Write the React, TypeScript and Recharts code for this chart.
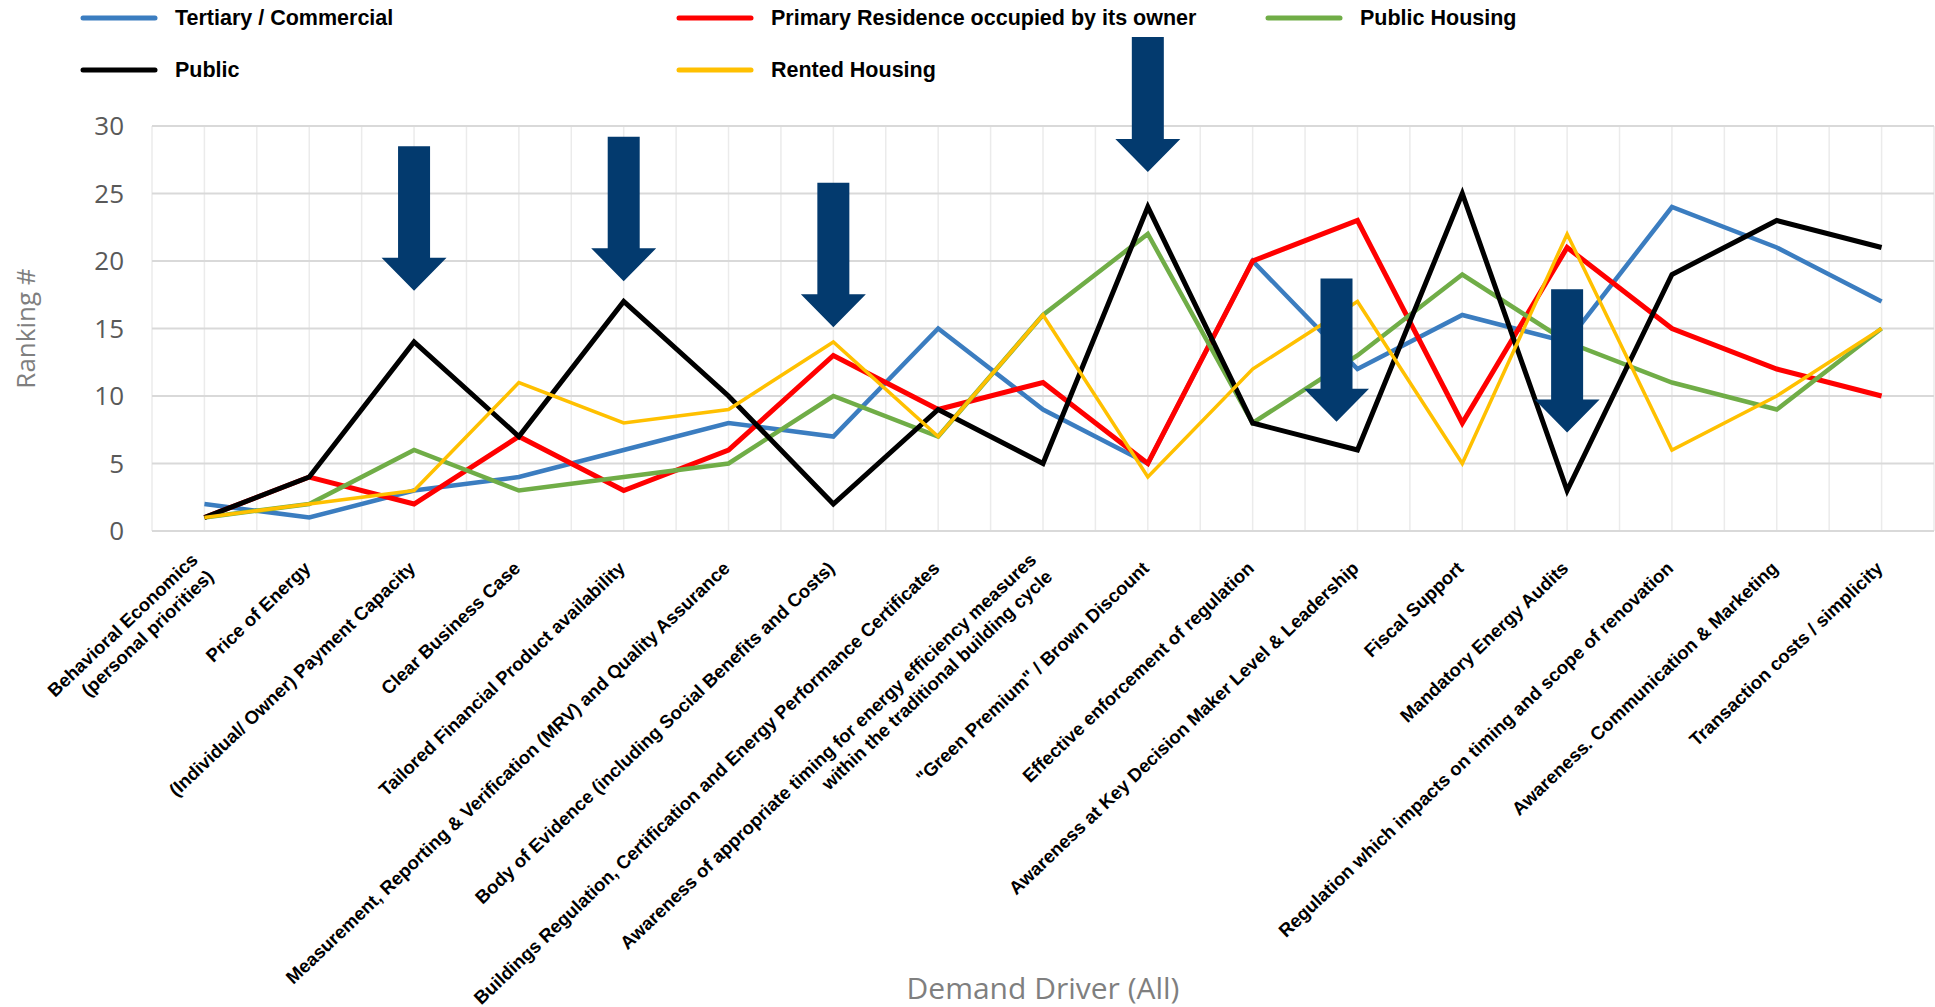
import { CartesianGrid, Label, Line, LineChart, ReferenceLine, XAxis, YAxis } from "recharts";

const categories = [
  "Behavioral Economics\n(personal priorities)",
  "Price of Energy",
  "(Individual/ Owner) Payment Capacity",
  "Clear Business Case",
  "Tailored Financial Product availability",
  "Measurement, Reporting & Verification (MRV) and Quality Assurance",
  "Body of Evidence (including Social Benefits and Costs)",
  "Buildings Regulation, Certification and Energy Performance Certificates",
  "Awareness of appropriate timing for energy efficiency measures\nwithin the traditional building cycle",
  "\"Green Premium\" / Brown Discount",
  "Effective enforcement of regulation",
  "Awareness at Key Decision Maker Level & Leadership",
  "Fiscal Support",
  "Mandatory Energy Audits",
  "Regulation which impacts on timing and scope of renovation",
  "Awareness. Communication & Marketing",
  "Transaction costs / simplicity",
];

const tertiary = [2, 1, 3, 4, 6, 8, 7, 15, 9, 5, 20, 12, 16, 14, 24, 21, 17];
const primaryResidence = [1, 4, 2, 7, 3, 6, 13, 9, 11, 5, 20, 23, 8, 21, 15, 12, 10];
const publicHousing = [1, 2, 6, 3, 4, 5, 10, 7, 16, 22, 8, 13, 19, 14, 11, 9, 15];
const publicSector = [1, 4, 14, 7, 17, 10, 2, 9, 5, 24, 8, 6, 25, 3, 19, 23, 21];
const rentedHousing = [1, 2, 3, 11, 8, 9, 14, 7, 16, 4, 12, 17, 5, 22, 6, 10, 15];

const yTicks = [0, 5, 10, 15, 20, 25, 30];

// highlighted drivers (x in category index, top / tip in ranking units)
const arrowX = [2, 4, 6, 9, 10.8, 13];
const arrowTop = [28.5, 29.2, 25.8, 36.6, 18.7, 17.9];
const arrowTip = [17.8, 18.5, 15.1, 26.6, 8.1, 7.3];

const series = [
  { key: "tertiary", name: "Tertiary / Commercial", color: "#3B7DC0", width: 4.5 },
  { key: "primaryResidence", name: "Primary Residence occupied by its owner", color: "#FF0000", width: 5 },
  { key: "publicHousing", name: "Public Housing", color: "#70AD47", width: 4.5 },
  { key: "publicSector", name: "Public", color: "#000000", width: 5 },
  { key: "rentedHousing", name: "Rented Housing", color: "#FFC000", width: 3.5 },
];

const rows = categories.map((name, i) => ({
  idx: i,
  name,
  tertiary: tertiary[i],
  primaryResidence: primaryResidence[i],
  publicHousing: publicHousing[i],
  publicSector: publicSector[i],
  rentedHousing: rentedHousing[i],
}));

// gridlines at every category and half-way between
const xTicks = Array.from({ length: categories.length * 2 + 1 }, (_, i) => i / 2 - 0.5);

const labelFont = "'Liberation Sans', Arial, sans-serif";
const axisFont = "'Open Sans', 'Noto Sans', sans-serif";

function DriverTick(props: any) {
  const { x, y, payload } = props;
  const v = Number(payload?.value);
  if (!Number.isInteger(v) || v < 0 || v >= categories.length) return <g />;
  const lines = categories[v].split("\n");
  const lh = 23;
  return (
    <g transform={`translate(${x - 2},${y + 34}) rotate(-43.5)`}>
      <text textAnchor="end" fontFamily={labelFont} fontWeight="bold" fontSize={18.5} fill="#000">
        {lines.map((line, i) => (
          <tspan key={i} x={0} y={(i - (lines.length - 1) / 2) * lh} dy="0.35em">
            {line}
          </tspan>
        ))}
      </text>
    </g>
  );
}

function DownArrow(props: any) {
  const { x1, y1, x2, y2 } = props;
  if (x1 == null || y1 == null) return <g />;
  const cx = (x1 + x2) / 2;
  const top = Math.min(y1, y2);
  const tip = Math.max(y1, y2);
  const shaft = 16;
  const head = 32.5;
  const headH = 33;
  const pts = [
    [cx - shaft, top],
    [cx + shaft, top],
    [cx + shaft, tip - headH],
    [cx + head, tip - headH],
    [cx, tip],
    [cx - head, tip - headH],
    [cx - shaft, tip - headH],
  ];
  return <polygon points={pts.map((p) => p.join(",")).join(" ")} fill="#033A6E" />;
}

function RankingLabel(props: any) {
  const vb = props.viewBox ?? { x: 0, y: 126, width: 152, height: 405 };
  const cx = vb.x + 25;
  const cy = vb.y + vb.height / 2;
  return (
    <text
      x={cx}
      y={cy}
      transform={`rotate(-90 ${cx} ${cy})`}
      textAnchor="middle"
      dominantBaseline="central"
      fontFamily={axisFont}
      fontSize={26}
      fill="#7F7F7F"
    >
      Ranking #
    </text>
  );
}

function DriverLabel(props: any) {
  const vb = props.viewBox ?? { x: 152, y: 531, width: 1782, height: 476 };
  return (
    <text
      x={vb.x + vb.width / 2}
      y={vb.y + 456}
      textAnchor="middle"
      dominantBaseline="central"
      fontFamily={axisFont}
      fontSize={30}
      fill="#7F7F7F"
    >
      Demand Driver (All)
    </text>
  );
}

const legendCols = [83, 679, 1268];
const legendRows = [18, 70];

function ChartLegend() {
  return (
    <svg width={1935} height={100} style={{ position: "absolute", left: 0, top: 0, pointerEvents: "none" }}>
      {series.map((s, i) => {
        const x = legendCols[i % 3];
        const y = legendRows[Math.floor(i / 3)];
        return (
          <g key={s.key}>
            <line x1={x} y1={y} x2={x + 72} y2={y} stroke={s.color} strokeWidth={5} strokeLinecap="round" />
            <text x={x + 92} y={y} dominantBaseline="central" fontFamily={labelFont} fontWeight="bold" fontSize={21.5} fill="#000">
              {s.name}
            </text>
          </g>
        );
      })}
    </svg>
  );
}

export default function App() {
  return (
    <div style={{ position: "absolute", left: 0, top: 0, width: 1935, height: 1007, background: "#fff" }}>
      <LineChart width={1935} height={1007} data={rows} margin={{ top: 126, right: 1, bottom: 0, left: 0 }}>
        <CartesianGrid horizontal={false} stroke="#EBEBEB" strokeWidth={1.5} />
        <CartesianGrid vertical={false} stroke="#D9D9D9" strokeWidth={2} />
        <XAxis
          type="number"
          dataKey="idx"
          domain={[-0.5, categories.length - 0.5]}
          ticks={xTicks}
          interval={0}
          height={476}
          axisLine={false}
          tickLine={false}
          tickSize={0}
          tickMargin={0}
          tick={<DriverTick />}
        >
          <Label content={<DriverLabel />} />
        </XAxis>
        <YAxis
          type="number"
          domain={[0, 30]}
          ticks={yTicks}
          interval={0}
          width={152}
          axisLine={false}
          tickLine={false}
          tickSize={0}
          tickMargin={28}
          tick={{ fill: "#595959", fontSize: 26, fontFamily: axisFont }}
        >
          <Label content={<RankingLabel />} />
        </YAxis>
        {series.map((s) => (
          <Line
            key={s.key}
            type="linear"
            dataKey={s.key}
            name={s.name}
            stroke={s.color}
            strokeWidth={s.width}
            dot={false}
            activeDot={false}
            isAnimationActive={false}
          />
        ))}
        {arrowX.map((x, i) => (
          <ReferenceLine
            key={`arrow-${i}`}
            segment={[
              { x, y: arrowTop[i] },
              { x, y: arrowTip[i] },
            ]}
            ifOverflow="visible"
            shape={DownArrow}
            zIndex={1500}
          />
        ))}
      </LineChart>
      <ChartLegend />
    </div>
  );
}
